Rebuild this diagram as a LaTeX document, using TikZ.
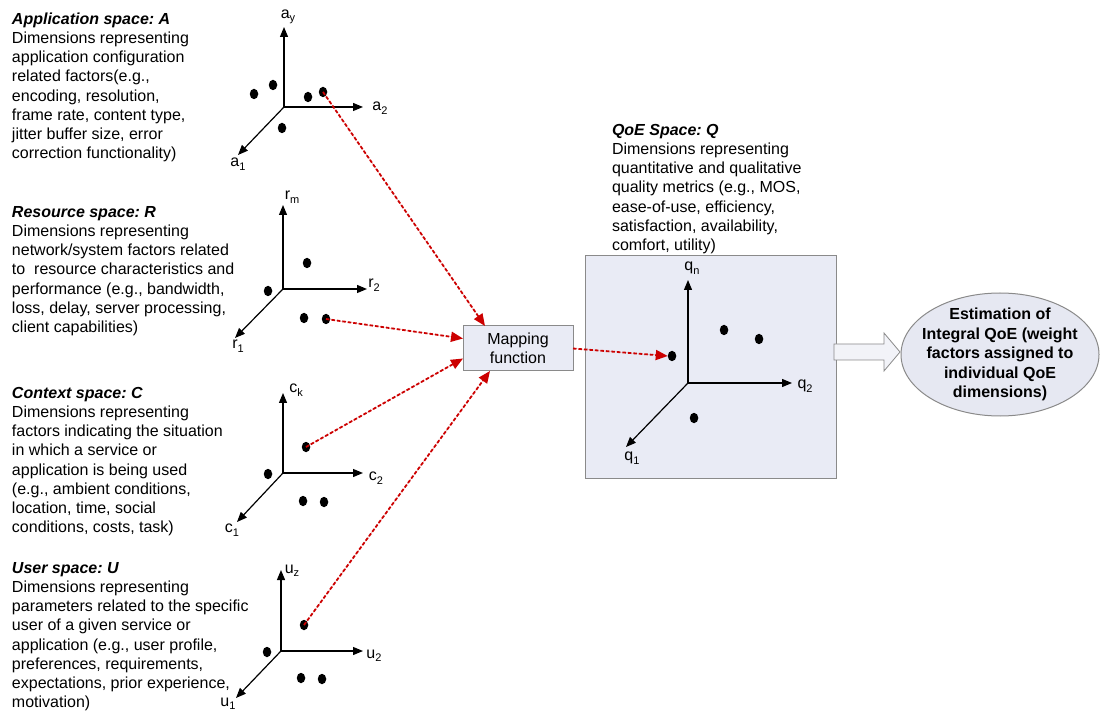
\documentclass[tikz,border=0pt]{standalone}
\usepackage{fontspec}
\setmainfont{Liberation Sans}
\usetikzlibrary{arrows.meta,shapes.geometric,calc}
\definecolor{arrowred}{HTML}{CC0000}
\definecolor{boxgray}{HTML}{8A8A8A}
\definecolor{boxfill}{HTML}{E9EBF5}
\definecolor{ellfill}{HTML}{E6E8F2}
\definecolor{blockfill}{HTML}{F2F3F8}
\frenchspacing
\newcommand{\lsub}[1]{\raisebox{-3.5pt}{\fontsize{11}{11}\selectfont #1}}
\tikzset{
  every node/.style={inner sep=0pt, outer sep=0pt},
  desc/.style={anchor=north west, align=left, font=\fontsize{16}{19.25}\selectfont},
  axisarrow/.style={-{Triangle[length=10pt,width=8pt]}, line width=1.2pt, black},
  blackdot/.style={ellipse, fill=black, minimum width=8.5pt, minimum height=10.5pt},
  axlabel/.style={font=\fontsize{16}{18}\selectfont},
  redlink/.style={-{Triangle[length=12pt,width=10pt]}, draw=arrowred, fill=arrowred, line width=1.8pt, dash pattern=on 3.5pt off 2pt},
  panel/.style={draw=boxgray, fill=boxfill, line width=1pt},
  blockarrow/.style={draw=boxgray, fill=blockfill, line width=0.8pt, line join=miter},
}
\begin{document}
\begin{tikzpicture}[x=1pt,y=-1pt]
\useasboundingbox (0,0) rectangle (1101,711);

% ---------- description texts ----------
\node[desc] (tA) at (12,12.5) {\textbf{\textit{Application space: A}}\\Dimensions representing\\application configuration\\related factors(e.g.,\\encoding, resolution,\\frame rate, content type,\\jitter buffer size, error\\correction functionality)};
\node[desc] (tR) at (12,206) {\textbf{\textit{Resource space: R}}\\Dimensions representing\\network/system factors related\\to\ \ resource characteristics and\\performance (e.g., bandwidth,\\loss, delay, server processing,\\client capabilities)};
\node[desc] (tC) at (12,387) {\textbf{\textit{Context space: C}}\\Dimensions representing\\factors indicating the situation\\in which a service or\\application is being used\\(e.g., ambient conditions,\\location, time, social\\conditions, costs, task)};
\node[desc] (tU) at (12,562) {\textbf{\textit{User space: U}}\\Dimensions representing\\parameters related to the specific\\user of a given service or\\application (e.g., user profile,\\preferences, requirements,\\expectations, prior experience,\\motivation)};
\node[desc] (tQ) at (612,124) {\textbf{\textit{QoE Space: Q}}\\Dimensions representing\\quantitative and qualitative\\quality metrics (e.g., MOS,\\ease-of-use, efficiency,\\satisfaction, availability,\\comfort, utility)};

% ---------- application axes ----------
\coordinate (ao) at (284,107);
\coordinate (ayt) at (284,27);
\coordinate (a2t) at (363,107);
\coordinate (a1t) at (238,155);
\draw[axisarrow] (ao) -- (ayt);
\draw[axisarrow] (ao) -- (a2t);
\draw[axisarrow] (ao) -- (a1t);
\node[axlabel] (lay) at (288,17) {a\lsub{y}};
\node[axlabel] (la2) at (380,108) {a\lsub{2}};
\node[axlabel] (la1) at (238,164) {a\lsub{1}};
\node[blackdot] (adot1) at (254,94) {};
\node[blackdot] (adot2) at (273,85) {};
\node[blackdot] (adot3) at (308,97) {};
\node[blackdot] (adot4) at (323,92) {};
\node[blackdot] (adot5) at (282,128) {};

% ---------- resource axes ----------
\coordinate (ro) at (283,289);
\coordinate (rmt) at (283,205);
\coordinate (r2t) at (367,289);
\coordinate (r1t) at (235,338);
\draw[axisarrow] (ro) -- (rmt);
\draw[axisarrow] (ro) -- (r2t);
\draw[axisarrow] (ro) -- (r1t);
\node[axlabel] (lrm) at (292,197) {r\lsub{m}};
\node[axlabel] (lr2) at (374,285) {r\lsub{2}};
\node[axlabel] (lr1) at (238,346) {r\lsub{1}};
\node[blackdot] (rdot1) at (268,291) {};
\node[blackdot] (rdot2) at (307,263) {};
\node[blackdot] (rdot3) at (304,318) {};
\node[blackdot] (rdot4) at (326,319) {};

% ---------- context axes ----------
\coordinate (co) at (283,473);
\coordinate (ckt) at (283,393);
\coordinate (c2t) at (363,473);
\coordinate (c1t) at (237,522);
\draw[axisarrow] (co) -- (ckt);
\draw[axisarrow] (co) -- (c2t);
\draw[axisarrow] (co) -- (c1t);
\node[axlabel] (lck) at (296,390) {c\lsub{k}};
\node[axlabel] (lc2) at (376,478) {c\lsub{2}};
\node[axlabel] (lc1) at (232,530) {c\lsub{1}};
\node[blackdot] (cdot1) at (268,474) {};
\node[blackdot] (cdot2) at (306,447) {};
\node[blackdot] (cdot3) at (303,501) {};
\node[blackdot] (cdot4) at (324,502) {};

% ---------- user axes ----------
\coordinate (uo) at (281,651);
\coordinate (uzt) at (281,570);
\coordinate (u2t) at (363,651);
\coordinate (u1t) at (236,698);
\draw[axisarrow] (uo) -- (uzt);
\draw[axisarrow] (uo) -- (u2t);
\draw[axisarrow] (uo) -- (u1t);
\node[axlabel] (luz) at (292,571) {u\lsub{z}};
\node[axlabel] (lu2) at (374,656) {u\lsub{2}};
\node[axlabel] (lu1) at (228,704) {u\lsub{1}};
\node[blackdot] (udot1) at (267,652) {};
\node[blackdot] (udot2) at (304,625) {};
\node[blackdot] (udot3) at (301,678) {};
\node[blackdot] (udot4) at (322,679) {};

% ---------- mapping function ----------
\node[panel, minimum width=110pt, minimum height=45pt, align=center,
      font=\fontsize{16}{18.5}\selectfont] (map) at (518,348.5) {Mapping\\function};

% ---------- QoE space ----------
\node[panel, minimum width=251pt, minimum height=222pt] (qbox) at (710.5,367) {};
\coordinate (qo) at (688,383);
\coordinate (qnt) at (688,280);
\coordinate (q2t) at (792,383);
\coordinate (q1t) at (626,447);
\draw[axisarrow] (qo) -- (qnt);
\draw[axisarrow] (qo) -- (q2t);
\draw[axisarrow] (qo) -- (q1t);
\node[axlabel] (lqn) at (692,268) {q\lsub{n}};
\node[axlabel] (lq2) at (805,386) {q\lsub{2}};
\node[axlabel] (lq1) at (632,458) {q\lsub{1}};
\node[blackdot] (qdot1) at (672,356) {};
\node[blackdot] (qdot2) at (724,330) {};
\node[blackdot] (qdot3) at (759,339) {};
\node[blackdot] (qdot4) at (694,418) {};

% ---------- estimation ellipse ----------
\node[ellipse, draw=boxgray, fill=ellfill, line width=1pt, minimum width=198pt, minimum height=123pt] (est) at (1000,354.5) {};
\node[align=center, font=\bfseries\fontsize{16}{19.5}\selectfont] (esttext) at (est.center)
      {Estimation of\\Integral QoE (weight\\factors assigned to\\individual QoE\\dimensions)};

% ---------- block arrow ----------
\draw[blockarrow] ([xshift=-2pt,yshift=23pt]qbox.east) -- ++(50,0) -- ++(0,-11) -- ++(16,19)
   -- ++(-16,19) -- ++(0,-11) -- ++(-50,0) -- cycle;

% ---------- red mapping links ----------
\draw[redlink] (adot4.center) -- ([xshift=-33pt]map.north);
\draw[redlink] (rdot4.center) -- ([yshift=10pt]map.west);
\draw[redlink] (cdot2.center) -- ([yshift=-10pt]map.west);
\draw[redlink] (udot2.center) -- ([xshift=-28pt]map.south);
\draw[redlink] (map.east) -- (qdot1.west);
\end{tikzpicture}
\end{document}
